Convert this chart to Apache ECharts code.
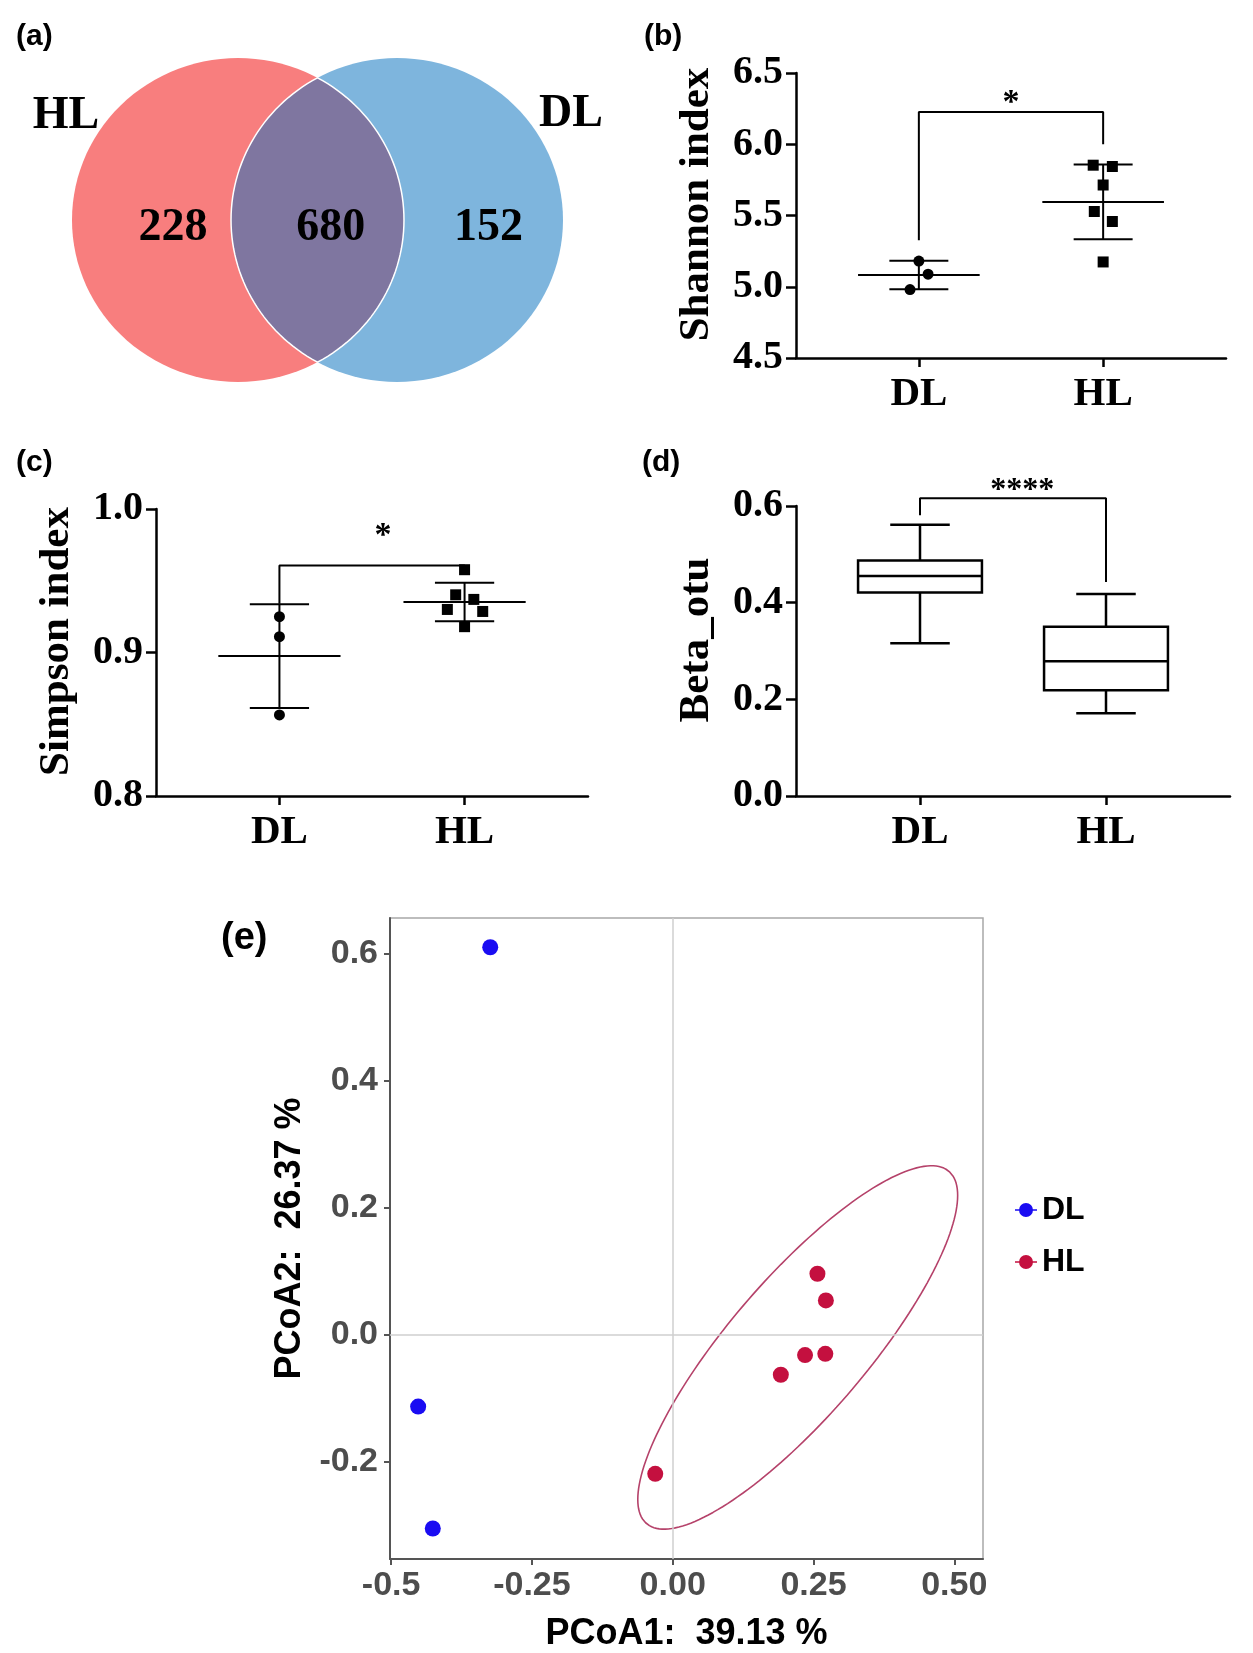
<!DOCTYPE html>
<html lang="en">
<head>
<meta charset="UTF-8">
<title>OTU diversity</title>
<style>
  html, body { margin: 0; padding: 0; background: #fff; }
  #main { width: 1253px; height: 1653px; }
</style>
</head>
<body>
<div id="main"></div>
<script src="https://cdn.jsdelivr.net/npm/echarts@6.0.0/dist/echarts.min.js"></script>
<script>
// ---- data ----
// (a) venn
var vennSets = ['HL', 'DL'];
var vennCounts = [228, 680, 152];          // HL only, shared, DL only

// (b)-(d) groups on the x axis
var groups = ['DL', 'HL'];

// (b) Shannon index
var shannonDL = [5.18, 5.088, 4.98];
var shannonHL = [5.853, 5.844, 5.714, 5.528, 5.458, 5.174];
var shannonJitterDL = [0, 0.05, -0.048];
var shannonJitterHL = [-0.054, 0.05, 0, -0.048, 0.05, 0];

// (c) Simpson index
var simpsonDL = [0.925, 0.911, 0.8565];
var simpsonHL = [0.9577, 0.9402, 0.937, 0.930, 0.9286, 0.918];
var simpsonJitterDL = [0, 0, 0];
var simpsonJitterHL = [0, -0.048, 0.05, -0.093, 0.098, 0];

// (d) Beta_otu boxes: min, q1, median, q3, max
var betaDL = [0.316, 0.421, 0.455, 0.487, 0.561];
var betaHL = [0.171, 0.219, 0.279, 0.350, 0.418];

// significance brackets
var shannonBracket = [[1, 5.326], [1, 6.226], [2, 6.226], [2, 6.0]];
var simpsonBracket = [[1, 0.934], [1, 0.9607], [2, 0.9607], [2, 0.955]];
var betaBracket = [[1, 0.581], [1, 0.616], [2, 0.616], [2, 0.443]];
var sigLabels = ['*', '*', '****'];

// (e) PCoA
var pcoaDL = [[-0.324, 0.610], [-0.452, -0.113], [-0.426, -0.305]];
var pcoaHL = [[0.257, 0.096], [0.272, 0.054], [0.235, -0.032], [0.271, -0.030], [0.192, -0.063], [-0.031, -0.219]];
var hlEllipse = { cx: 0.222, cy: -0.02, rx: 0.284, ry: 0.286, phase: 0.58 };
var pcoaXTicks = [-0.5, -0.25, 0, 0.25, 0.5];
var pcoaXLabels = ['-0.5', '-0.25', '0.00', '0.25', '0.50'];
var pcoaYTicks = [-0.2, 0, 0.2, 0.4, 0.6];

// ---- helpers ----
var SERIF = '"Liberation Serif", "Times New Roman", serif';
var SANS = '"Liberation Sans", Arial, sans-serif';

function mean(a) { var s = 0; a.forEach(function (v) { s += v; }); return s / a.length; }
function sd(a) {
  var m = mean(a), s = 0;
  a.forEach(function (v) { s += (v - m) * (v - m); });
  return Math.sqrt(s / (a.length - 1));
}
function errRow(x, a) { var m = mean(a), s = sd(a); return [x, m, m - s, m + s]; }
function jitter(x, vals, off) { return vals.map(function (v, i) { return [x + off[i], v]; }); }

function seg(p, q, w) {
  return { type: 'line', shape: { x1: p[0], y1: p[1], x2: q[0], y2: q[1] },
    style: { stroke: '#000', lineWidth: w } };
}

// mean line, sd caps and the vertical between them
function renderErr(params, api) {
  var x = api.value(0), m = api.value(1), lo = api.value(2), hi = api.value(3);
  var w = 2;
  return { type: 'group', children: [
    seg(api.coord([x - 0.33, m]), api.coord([x + 0.33, m]), w),
    seg(api.coord([x - 0.16, hi]), api.coord([x + 0.16, hi]), w),
    seg(api.coord([x - 0.16, lo]), api.coord([x + 0.16, lo]), w),
    seg(api.coord([x, lo]), api.coord([x, hi]), w)
  ] };
}

function renderBox(params, api) {
  var x = api.value(0), mn = api.value(1), q1 = api.value(2), md = api.value(3), q3 = api.value(4), mx = api.value(5);
  var w = 2.5, hw = 0.333, cw = 0.16;
  var tl = api.coord([x - hw, q3]), br = api.coord([x + hw, q1]);
  return { type: 'group', children: [
    { type: 'rect', shape: { x: tl[0], y: tl[1], width: br[0] - tl[0], height: br[1] - tl[1] },
      style: { fill: '#fff', stroke: '#000', lineWidth: w } },
    seg(api.coord([x - hw, md]), api.coord([x + hw, md]), w),
    seg(api.coord([x, q3]), api.coord([x, mx]), w),
    seg(api.coord([x, q1]), api.coord([x, mn]), w),
    seg(api.coord([x - cw, mx]), api.coord([x + cw, mx]), w),
    seg(api.coord([x - cw, mn]), api.coord([x + cw, mn]), w)
  ] };
}

// venn: two unit circles at -d and +d in data space
var vennD = 0.479;
function renderVenn(params, api) {
  var i = params.dataIndex, pts = [], k, t, n = 120;
  if (i < 2) {
    var cx = i === 0 ? -vennD : vennD;
    for (k = 0; k < n; k++) {
      t = 2 * Math.PI * k / n;
      pts.push(api.coord([cx + Math.cos(t), Math.sin(t)]));
    }
    return { type: 'polygon', shape: { points: pts },
      style: { fill: i === 0 ? '#F87E7E' : '#7EB5DD' } };
  }
  var a = Math.acos(vennD);
  for (k = 0; k <= 60; k++) {
    t = -a + 2 * a * k / 60;
    pts.push(api.coord([-vennD + Math.cos(t), Math.sin(t)]));
  }
  for (k = 0; k <= 60; k++) {
    t = Math.PI - a + 2 * a * k / 60;
    pts.push(api.coord([vennD + Math.cos(t), Math.sin(t)]));
  }
  return { type: 'polygon', shape: { points: pts },
    style: { fill: '#7F76A0', stroke: '#fff', lineWidth: 1.5 } };
}

function ellipseOutline(e, n) {
  var pts = [];
  for (var i = 0; i <= n; i++) {
    var t = 2 * Math.PI * i / n;
    pts.push([e.cx + e.rx * Math.cos(t), e.cy + e.ry * Math.cos(t - e.phase)]);
  }
  return pts;
}

function groupXAxis(gi) {
  return {
    type: 'value', gridIndex: gi, min: 1 / 3, max: 8 / 3,
    axisLine: { show: true, onZero: false, lineStyle: { color: '#000', width: 2.5 } },
    axisTick: { show: true, customValues: [1, 2], length: 9, lineStyle: { color: '#000', width: 2.5 } },
    axisLabel: { customValues: [1, 2], margin: 16, color: '#000', fontFamily: SERIF, fontWeight: 'bold', fontSize: 41,
      formatter: function (v) { return groups[Math.round(v) - 1]; } },
    splitLine: { show: false }
  };
}
function groupYAxis(gi, name, mn, mx, step) {
  return {
    type: 'value', gridIndex: gi, min: mn, max: mx, interval: step,
    name: name, nameLocation: 'middle', nameGap: 78, nameRotate: 90,
    nameTextStyle: { color: '#000', fontFamily: SERIF, fontWeight: 'bold', fontSize: 43, padding: [0, 0, 0, 22] },
    axisLine: { show: true, onZero: false, lineStyle: { color: '#000', width: 2.5 } },
    axisTick: { show: true, length: 10, lineStyle: { color: '#000', width: 2.5 } },
    axisLabel: { margin: 13, color: '#000', fontFamily: SERIF, fontWeight: 'bold', fontSize: 40,
      formatter: function (v) { return v.toFixed(1); } },
    splitLine: { show: false }
  };
}
function dots(gi, name, data, symbol) {
  return { type: 'scatter', name: name, xAxisIndex: gi, yAxisIndex: gi, data: data,
    symbol: symbol, symbolSize: 11, itemStyle: { color: '#000', opacity: 1 }, z: 3 };
}
function bracket(gi, pts) {
  return { type: 'line', xAxisIndex: gi, yAxisIndex: gi, data: pts, symbol: 'none', clip: false,
    lineStyle: { color: '#000', width: 2 }, z: 2 };
}
function star(gi, pos, txt, size) {
  return { type: 'scatter', xAxisIndex: gi, yAxisIndex: gi, data: [pos], symbolSize: 1, clip: false,
    itemStyle: { color: 'rgba(0,0,0,0)', opacity: 1 }, silent: true,
    label: { show: true, position: 'inside', formatter: txt, color: '#000',
      fontFamily: SERIF, fontWeight: 'bold', fontSize: size } };
}
function panelTitle(txt, left, top, size) {
  return { text: txt, left: left, top: top, padding: 0,
    textStyle: { color: '#000', fontFamily: SANS, fontWeight: 'bold', fontSize: size } };
}

var vennTextPos = [-0.87, 0.08, 1.03];
var vennNamePos = [[-1.515, 0.64], [1.527, 0.654]];

var chart = echarts.init(document.getElementById('main'), null, { renderer: 'canvas' });

var option = {
  backgroundColor: '#fff',
  animation: false,
  title: [
    panelTitle('(a)', 16, 22, 30),
    panelTitle('(b)', 644, 22, 30),
    panelTitle('(c)', 16, 448, 30),
    panelTitle('(d)', 642, 448, 30),
    panelTitle('(e)', 221, 920, 38)
  ],
  grid: [
    { left: 72, top: 58, width: 491, height: 324 },
    { left: 796, top: 73, width: 430, height: 285 },
    { left: 156, top: 509, width: 432, height: 287 },
    { left: 796, top: 506, width: 434, height: 290 },
    { left: 390, top: 918, width: 593, height: 644, show: true, borderColor: '#a8a8a8', borderWidth: 1.5 }
  ],
  legend: {
    orient: 'vertical', left: 1010, top: 1189, itemGap: 20,
    itemWidth: 22, itemHeight: 14,
    data: [
      { name: 'DL', icon: 'path://M0,9.3h22v1.4h-22z M4,10a7,7 0 1,1 14,0a7,7 0 1,1 -14,0z' },
      { name: 'HL', icon: 'path://M0,9.3h22v1.4h-22z M4,10a7,7 0 1,1 14,0a7,7 0 1,1 -14,0z' }
    ],
    textStyle: { color: '#000', fontFamily: SANS, fontWeight: 'bold', fontSize: 32 }
  },
  xAxis: [
    { type: 'value', gridIndex: 0, min: -1 - vennD, max: 1 + vennD, show: false },
    groupXAxis(1),
    groupXAxis(2),
    groupXAxis(3),
    {
      type: 'value', gridIndex: 4, min: -0.502, max: 0.551,
      name: 'PCoA1:  39.13 %', nameLocation: 'middle', nameGap: 57,
      nameTextStyle: { color: '#000', fontFamily: SANS, fontWeight: 'bold', fontSize: 36 },
      axisLine: { show: true, onZero: false, lineStyle: { color: '#555', width: 2 } },
      axisTick: { show: true, customValues: pcoaXTicks, length: 6, lineStyle: { color: '#555', width: 2 } },
      axisLabel: { customValues: pcoaXTicks, margin: 10, color: '#4d4d4d', fontFamily: SANS, fontWeight: 'bold', fontSize: 34,
        formatter: function (v) {
          for (var i = 0; i < pcoaXTicks.length; i++) if (Math.abs(pcoaXTicks[i] - v) < 1e-6) return pcoaXLabels[i];
          return '';
        } },
      splitLine: { show: false }
    }
  ],
  yAxis: [
    { type: 'value', gridIndex: 0, min: -1, max: 1, show: false },
    groupYAxis(1, 'Shannon index', 4.5, 6.5, 0.5),
    groupYAxis(2, 'Simpson index', 0.8, 1.0, 0.1),
    groupYAxis(3, 'Beta_otu', 0, 0.6, 0.2),
    {
      type: 'value', gridIndex: 4, min: -0.353, max: 0.656,
      name: 'PCoA2:  26.37 %', nameLocation: 'middle', nameGap: 82, nameRotate: 90,
      nameTextStyle: { color: '#000', fontFamily: SANS, fontWeight: 'bold', fontSize: 36 },
      axisLine: { show: true, onZero: false, lineStyle: { color: '#555', width: 2 } },
      axisTick: { show: true, customValues: pcoaYTicks, length: 6, lineStyle: { color: '#555', width: 2 } },
      axisLabel: { customValues: pcoaYTicks, margin: 12, color: '#4d4d4d', fontFamily: SANS, fontWeight: 'bold', fontSize: 34,
        formatter: function (v) { return (Math.abs(v) < 1e-9 ? 0 : v).toFixed(1); } },
      splitLine: { show: false }
    }
  ],
  series: [
    // (a)
    { type: 'custom', xAxisIndex: 0, yAxisIndex: 0, renderItem: renderVenn,
      data: [[-vennD, 0], [vennD, 0], [0, 0]], silent: true },
    { type: 'scatter', xAxisIndex: 0, yAxisIndex: 0, symbolSize: 1, clip: false, silent: true,
      itemStyle: { color: 'rgba(0,0,0,0)', opacity: 1 },
      data: vennCounts.map(function (c, i) { return [vennTextPos[i], -0.05, c]; })
        .concat(vennSets.map(function (s, i) { return [vennNamePos[i][0], vennNamePos[i][1], s]; })),
      label: { show: true, position: 'inside', color: '#000', fontFamily: SERIF, fontWeight: 'bold',
        fontSize: 46, formatter: function (p) { return p.value[2]; } } },

    // (b)
    { type: 'custom', xAxisIndex: 1, yAxisIndex: 1, renderItem: renderErr,
      data: [errRow(1, shannonDL), errRow(2, shannonHL)], z: 2 },
    dots(1, 'Shannon DL', jitter(1, shannonDL, shannonJitterDL), 'circle'),
    dots(1, 'Shannon HL', jitter(2, shannonHL, shannonJitterHL), 'rect'),
    bracket(1, shannonBracket),
    star(1, [1.5, 6.29], sigLabels[0], 34),

    // (c)
    { type: 'custom', xAxisIndex: 2, yAxisIndex: 2, renderItem: renderErr,
      data: [errRow(1, simpsonDL), errRow(2, simpsonHL)], z: 2 },
    dots(2, 'Simpson DL', jitter(1, simpsonDL, simpsonJitterDL), 'circle'),
    dots(2, 'Simpson HL', jitter(2, simpsonHL, simpsonJitterHL), 'rect'),
    bracket(2, simpsonBracket),
    star(2, [1.56, 0.981], sigLabels[1], 34),

    // (d)
    { type: 'custom', xAxisIndex: 3, yAxisIndex: 3, renderItem: renderBox,
      data: [[1].concat(betaDL), [2].concat(betaHL)], z: 2 },
    bracket(3, betaBracket),
    star(3, [1.55, 0.631], sigLabels[2], 32),

    // (e)
    { type: 'line', xAxisIndex: 4, yAxisIndex: 4, data: ellipseOutline(hlEllipse, 180),
      symbol: 'none', smooth: false, silent: true,
      lineStyle: { color: '#B5426A', width: 1.6 }, z: 2 },
    { type: 'scatter', name: 'DL', xAxisIndex: 4, yAxisIndex: 4, data: pcoaDL,
      symbol: 'circle', symbolSize: 16, itemStyle: { color: '#1A0CF2', opacity: 1 }, z: 4,
      markLine: { silent: true, symbol: ['none', 'none'], label: { show: false },
        lineStyle: { color: '#cfcfcf', width: 1.5, type: 'solid' },
        data: [{ xAxis: 0 }, { yAxis: 0 }] } },
    { type: 'scatter', name: 'HL', xAxisIndex: 4, yAxisIndex: 4, data: pcoaHL,
      symbol: 'circle', symbolSize: 16, itemStyle: { color: '#C4103F', opacity: 1 }, z: 4 }
  ]
};

chart.setOption(option);
</script>
</body>
</html>
